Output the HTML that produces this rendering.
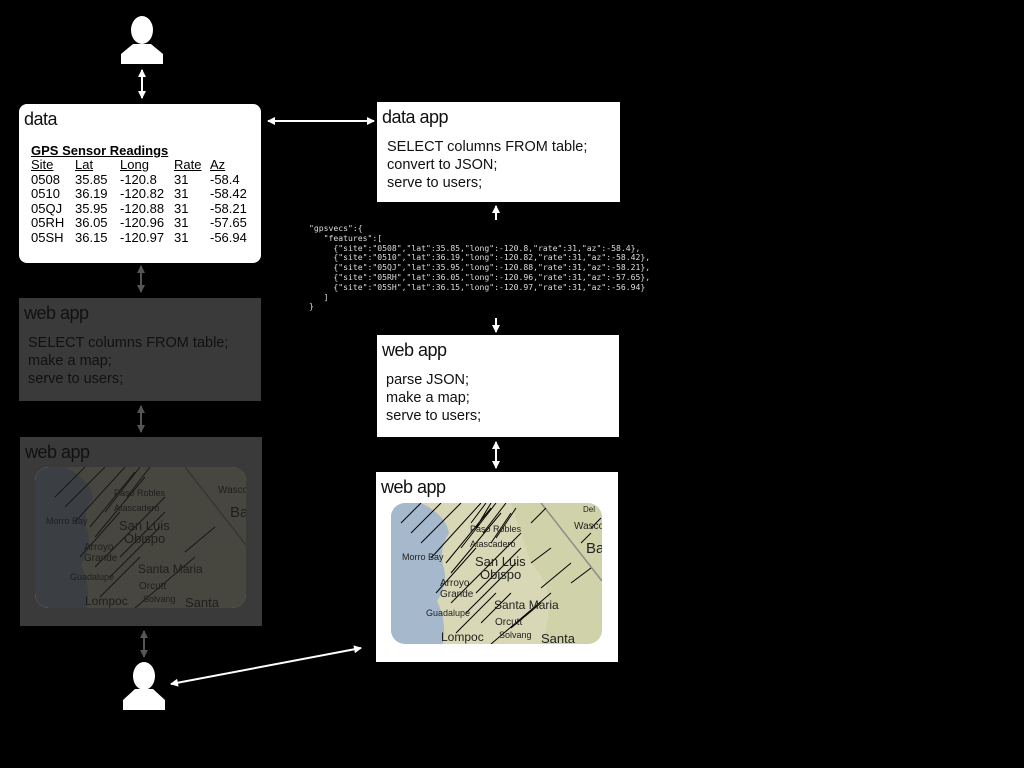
<!DOCTYPE html>
<html><head><style>
body{margin:0;background:#000;width:1024px;height:768px;overflow:hidden;position:relative;font-family:"Liberation Sans",sans-serif}
.b{position:absolute}
.t{font-size:18px;color:#111;position:absolute;left:5px;top:5px;letter-spacing:-0.5px}
.code{font-size:14.5px;line-height:18px;color:#111;position:absolute}
table{border-collapse:collapse;font-size:13px;line-height:14.5px}
td{padding:0 4px 0 0}
pre{margin:0;font-family:"DejaVu Sans Mono","Liberation Mono",monospace;font-size:8.1px;line-height:9.8px;color:#ddd}
</style></head><body>
<div class="b" style="left:19px;top:104px;width:242px;height:159px;background:#fff;border-radius:8px">
 <div class="t">data</div>
 <div style="position:absolute;left:12px;top:39px;font-size:13px;font-weight:bold;text-decoration:underline">GPS Sensor Readings</div>
 <table style="position:absolute;left:12px;top:54px">
 <tr><td style="width:40px"><u>Site</u></td><td style="width:41px"><u>Lat</u></td><td style="width:50px"><u>Long</u></td><td style="width:32px"><u>Rate</u></td><td><u>Az</u></td></tr>
 <tr><td>0508</td><td>35.85</td><td>-120.8</td><td>31</td><td>-58.4</td></tr>
 <tr><td>0510</td><td>36.19</td><td>-120.82</td><td>31</td><td>-58.42</td></tr>
 <tr><td>05QJ</td><td>35.95</td><td>-120.88</td><td>31</td><td>-58.21</td></tr>
 <tr><td>05RH</td><td>36.05</td><td>-120.96</td><td>31</td><td>-57.65</td></tr>
 <tr><td>05SH</td><td>36.15</td><td>-120.97</td><td>31</td><td>-56.94</td></tr>
 </table>
</div>
<div class="b" style="left:19px;top:298px;width:242px;height:103px;background:#3a3a3a">
 <div class="t" style="color:#111">web app</div>
 <div class="code" style="left:9px;top:36px">SELECT columns FROM table;<br>make a map;<br>serve to users;</div>
</div>
<div class="b" style="left:20px;top:437px;width:242px;height:189px;background:#3a3a3a">
 <div class="t">web app</div>
</div>
<div class="b" style="left:377px;top:102px;width:243px;height:100px;background:#fff">
 <div class="t">data app</div>
 <div class="code" style="left:10px;top:36px">SELECT columns FROM table;<br>convert to JSON;<br>serve to users;</div>
</div>
<div class="b" style="left:377px;top:335px;width:242px;height:102px;background:#fff">
 <div class="t">web app</div>
 <div class="code" style="left:9px;top:36px">parse JSON;<br>make a map;<br>serve to users;</div>
</div>
<div class="b" style="left:376px;top:472px;width:242px;height:190px;background:#fff">
 <div class="t">web app</div>
</div>
<pre class="b" style="left:309px;top:224px">"gpsvecs":{
   "features":[
     {"site":"0508","lat":35.85,"long":-120.8,"rate":31,"az":-58.4},
     {"site":"0510","lat":36.19,"long":-120.82,"rate":31,"az":-58.42},
     {"site":"05QJ","lat":35.95,"long":-120.88,"rate":31,"az":-58.21},
     {"site":"05RH","lat":36.05,"long":-120.96,"rate":31,"az":-57.65},
     {"site":"05SH","lat":36.15,"long":-120.97,"rate":31,"az":-56.94}
   ]
}</pre>
<svg class="b" style="left:0;top:0" width="1024" height="768">
<defs>
<marker id="aw" markerWidth="8" markerHeight="8" refX="7" refY="4" orient="auto-start-reverse" markerUnits="userSpaceOnUse"><path d="M0,0 L8,4 L0,8 z" fill="#fff"/></marker>
<marker id="ag" markerWidth="8" markerHeight="8" refX="7" refY="4" orient="auto-start-reverse" markerUnits="userSpaceOnUse"><path d="M0,0 L8,4 L0,8 z" fill="#555"/></marker>
<clipPath id="mc"><rect x="0" y="0" width="211" height="141" rx="14"/></clipPath>
</defs>
<ellipse cx="142" cy="30" rx="11" ry="14" fill="#fff"/>
<path d="M133,44 L151,44 L163,54 L163,64 L121,64 L121,54 Z" fill="#fff"/>
<ellipse cx="144" cy="676" rx="11" ry="14" fill="#fff"/>
<path d="M135,689 L153,689 L165,700 L165,710 L123,710 L123,700 Z" fill="#fff"/>
<g stroke="#fff" stroke-width="2" fill="none">
<line x1="142" y1="70" x2="142" y2="98" marker-start="url(#aw)" marker-end="url(#aw)"/>
<line x1="268" y1="121" x2="374" y2="121" marker-start="url(#aw)" marker-end="url(#aw)"/>
<line x1="496" y1="220" x2="496" y2="206" marker-end="url(#aw)"/>
<line x1="496" y1="318" x2="496" y2="332" marker-end="url(#aw)"/>
<line x1="496" y1="442" x2="496" y2="468" marker-start="url(#aw)" marker-end="url(#aw)"/>
<line x1="171" y1="684" x2="361" y2="648" marker-start="url(#aw)" marker-end="url(#aw)"/>
</g>
<g stroke="#555" stroke-width="2" fill="none">
<line x1="141" y1="266" x2="141" y2="292" marker-start="url(#ag)" marker-end="url(#ag)"/>
<line x1="141" y1="406" x2="141" y2="432" marker-start="url(#ag)" marker-end="url(#ag)"/>
<line x1="144" y1="631" x2="144" y2="657" marker-start="url(#ag)" marker-end="url(#ag)"/>
</g>
<g transform="translate(391,503)">
<g clip-path="url(#mc)" font-family="Liberation Sans, sans-serif">
<rect width="211" height="141" fill="#d9d8b6"/>
<path d="M120,0 L211,0 L211,141 L150,141 Q170,90 140,60 Q130,30 120,0Z" fill="#c9cfa0" opacity=".6"/>
<path d="M0,0 L30,0 Q55,12 58,30 Q48,45 52,62 Q58,80 46,98 Q56,118 52,141 L0,141Z" fill="#a5b8cc"/>
<path d="M150,0 L211,78" stroke="#8a8f8a" stroke-width="1.5" fill="none"/>
<g stroke="#000" stroke-width="1">
<line x1="20" y1="30" x2="50" y2="0"/><line x1="30" y1="40" x2="70" y2="0"/><line x1="40" y1="55" x2="90" y2="0"/>
<line x1="55" y1="60" x2="100" y2="5"/><line x1="60" y1="70" x2="110" y2="10"/><line x1="70" y1="45" x2="105" y2="0"/>
<line x1="80" y1="20" x2="95" y2="0"/><line x1="85" y1="25" x2="100" y2="0"/><line x1="92" y1="30" x2="115" y2="0"/>
<line x1="100" y1="40" x2="120" y2="10"/><line x1="105" y1="35" x2="125" y2="5"/><line x1="45" y1="90" x2="85" y2="45"/>
<line x1="60" y1="100" x2="130" y2="30"/><line x1="75" y1="110" x2="125" y2="60"/><line x1="85" y1="90" x2="130" y2="45"/>
<line x1="65" y1="130" x2="105" y2="90"/><line x1="90" y1="120" x2="120" y2="90"/><line x1="100" y1="141" x2="160" y2="90"/>
<line x1="120" y1="125" x2="150" y2="100"/><line x1="140" y1="60" x2="160" y2="45"/><line x1="140" y1="20" x2="155" y2="5"/>
<line x1="190" y1="40" x2="200" y2="30"/><line x1="180" y1="80" x2="200" y2="65"/><line x1="200" y1="25" x2="210" y2="15"/>
<line x1="10" y1="20" x2="30" y2="0"/><line x1="150" y1="85" x2="180" y2="60"/>
</g>
<g font-size="9" fill="#222">
<text x="79" y="29">Paso Robles</text><text x="79" y="44">Atascadero</text><text x="11" y="57">Morro Bay</text>
<text x="84" y="63" font-size="13">San Luis</text><text x="89" y="76" font-size="13">Obispo</text>
<text x="49" y="83" font-size="10">Arroyo</text><text x="49" y="94" font-size="10">Grande</text>
<text x="35" y="113">Guadalupe</text><text x="103" y="106" font-size="12">Santa Maria</text><text x="104" y="122" font-size="10">Orcutt</text>
<text x="50" y="138" font-size="12">Lompoc</text><text x="108" y="135" font-size="9">Solvang</text><text x="150" y="140" font-size="13">Santa</text>
<text x="183" y="26" font-size="10">Wasco</text><text x="195" y="50" font-size="15">Ba</text><text x="192" y="9" font-size="8">Del</text>
</g>
</g></g>
<g transform="translate(35,467)">
<g clip-path="url(#mc)" font-family="Liberation Sans, sans-serif">
<rect width="211" height="141" fill="#d9d8b6"/>
<path d="M0,0 L30,0 Q55,12 58,30 Q48,45 52,62 Q58,80 46,98 Q56,118 52,141 L0,141Z" fill="#a5b8cc"/>
<path d="M150,0 L211,78" stroke="#8a8f8a" stroke-width="1.5" fill="none"/>
<g stroke="#000" stroke-width="1">
<line x1="20" y1="30" x2="50" y2="0"/><line x1="30" y1="40" x2="70" y2="0"/><line x1="40" y1="55" x2="90" y2="0"/>
<line x1="55" y1="60" x2="100" y2="5"/><line x1="60" y1="70" x2="110" y2="10"/><line x1="70" y1="45" x2="105" y2="0"/>
<line x1="92" y1="30" x2="115" y2="0"/><line x1="45" y1="90" x2="85" y2="45"/>
<line x1="60" y1="100" x2="130" y2="30"/><line x1="75" y1="110" x2="125" y2="60"/><line x1="85" y1="90" x2="130" y2="45"/>
<line x1="65" y1="130" x2="105" y2="90"/><line x1="100" y1="141" x2="160" y2="90"/><line x1="150" y1="85" x2="180" y2="60"/>
</g>
<g font-size="9" fill="#222">
<text x="79" y="29">Paso Robles</text><text x="79" y="44">Atascadero</text><text x="11" y="57">Morro Bay</text>
<text x="84" y="63" font-size="13">San Luis</text><text x="89" y="76" font-size="13">Obispo</text>
<text x="49" y="83" font-size="10">Arroyo</text><text x="49" y="94" font-size="10">Grande</text>
<text x="35" y="113">Guadalupe</text><text x="103" y="106" font-size="12">Santa Maria</text><text x="104" y="122" font-size="10">Orcutt</text>
<text x="50" y="138" font-size="12">Lompoc</text><text x="108" y="135" font-size="9">Solvang</text><text x="150" y="140" font-size="13">Santa</text>
<text x="183" y="26" font-size="10">Wasco</text><text x="195" y="50" font-size="15">Ba</text>
</g>
<rect width="211" height="141" fill="#1e1e1e" opacity="0.78"/>
</g></g>
</svg>
</body></html>
